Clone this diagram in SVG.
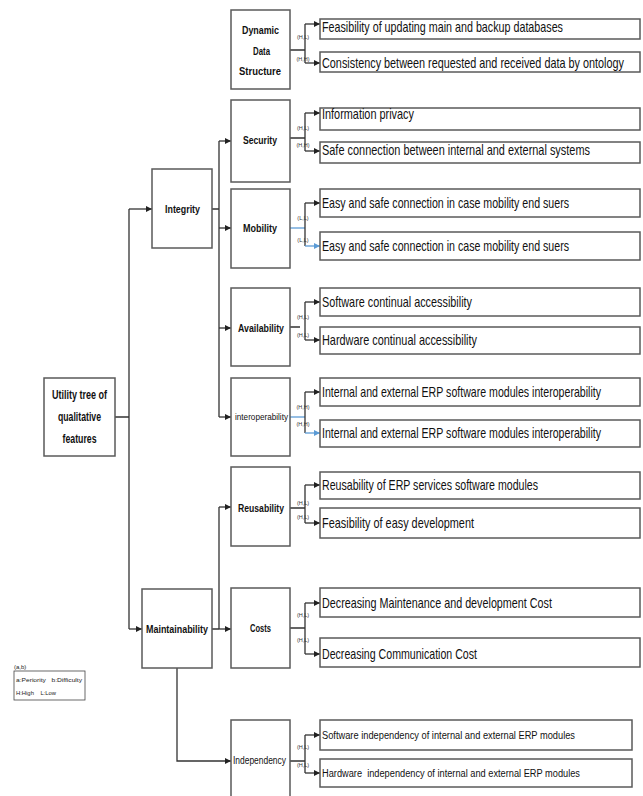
<svg xmlns="http://www.w3.org/2000/svg" width="643" height="796" viewBox="0 0 643 796">
<style>
.box{fill:#fff;stroke:#5a5a5a;stroke-width:1.5}
.t{font-family:"Liberation Sans",Arial,sans-serif;fill:#111}
.leaf{font-size:14px}
.leafs{font-size:11px}
.ttl{font-size:10px;font-weight:bold;text-anchor:middle}
.root{font-size:12px;font-weight:bold;text-anchor:middle}
.lbl{font-family:"Liberation Sans",Arial,sans-serif;font-size:5.5px;fill:#333;text-anchor:middle}
.c{fill:none;stroke:#333;stroke-width:1.3}
.cb{fill:none;stroke:#5b9bd5;stroke-width:1.3}
.a{marker-end:url(#ah)}
.ab{marker-end:url(#ahb)}
.lg{font-family:"Liberation Sans",Arial,sans-serif;font-size:6px;fill:#222}
</style>
<defs>
<marker id="ah" markerUnits="userSpaceOnUse" markerWidth="7" markerHeight="7" refX="6" refY="3" orient="auto"><path d="M0,0 L6,3 L0,6 z" fill="#222"/></marker>
<marker id="ahb" markerUnits="userSpaceOnUse" markerWidth="7" markerHeight="7" refX="6" refY="3" orient="auto"><path d="M0,0 L6,3 L0,6 z" fill="#5b9bd5"/></marker>
</defs>
<rect width="643" height="796" fill="#fff"/>

<g id="connectors">
<path class="c" d="M115,417 H129 M129,209 V629"/>
<path class="c a" d="M129,209 H152"/>
<path class="c a" d="M129,629 H142"/>
<path class="c" d="M212,209 H219 M219,141 V417"/>
<path class="c a" d="M219,141 H231"/>
<path class="c a" d="M219,228 H231"/>
<path class="c a" d="M219,328 H231"/>
<path class="c a" d="M219,417 H231"/>
<path class="c" d="M212,629 H219 M219,507 V629"/>
<path class="c a" d="M219,507 H231"/>
<path class="c a" d="M219,629 H231"/>
<path class="c a" d="M177,668 V761 H231"/>
<path class="c" d="M290,50 H305 M305,24 V63"/>
<path class="c a" d="M305,24 H320"/>
<path class="c a" d="M305,63 H320"/>
<path class="c" d="M290,138 H305 M305,113 V151"/>
<path class="c a" d="M305,113 H320"/>
<path class="c a" d="M305,151 H320"/>
<path class="cb" d="M290,228 H305"/>
<path class="c" d="M305,203 V246"/>
<path class="c a" d="M305,203 H320"/>
<path class="cb ab" d="M305,246 H320"/>
<path class="c" d="M290,327 H300 M305,302 V340"/>
<path class="c a" d="M305,302 H320"/>
<path class="c a" d="M305,340 H320"/>
<path class="cb" d="M290,417 H305"/>
<path class="c" d="M305,392 V433"/>
<path class="c a" d="M305,392 H320"/>
<path class="cb ab" d="M305,433 H320"/>
<path class="c" d="M290,508 H305 M305,485 V523"/>
<path class="c a" d="M305,485 H320"/>
<path class="c a" d="M305,523 H320"/>
<path class="c" d="M290,628 H305 M305,603 V654"/>
<path class="c a" d="M305,603 H320"/>
<path class="c a" d="M305,654 H320"/>
<path class="c" d="M290,761 H305 M305,735 V773"/>
<path class="c a" d="M305,735 H320"/>
<path class="c a" d="M305,773 H320"/>
</g>

<g id="labels">
<text class="lbl" x="303" y="39">(H,L)</text><text class="lbl" x="303" y="61">(H,H)</text>
<text class="lbl" x="303" y="130">(H,L)</text><text class="lbl" x="303" y="147">(H,H)</text>
<text class="lbl" x="303" y="220">(L,L)</text><text class="lbl" x="303" y="242">(L,L)</text>
<text class="lbl" x="303" y="319">(H,L)</text><text class="lbl" x="303" y="337">(H,L)</text>
<text class="lbl" x="303" y="409">(H,H)</text><text class="lbl" x="303" y="426">(H,H)</text>
<text class="lbl" x="303" y="505">(H,L)</text><text class="lbl" x="303" y="519">(H,L)</text>
<text class="lbl" x="303" y="617">(H,L)</text><text class="lbl" x="303" y="642">(H,L)</text>
<text class="lbl" x="303" y="749">(H,L)</text><text class="lbl" x="303" y="767">(H,L)</text>
</g>

<g id="root"><rect class="box" x="44" y="378" width="71" height="78"/>
<text class="t root" x="79.5" y="399" textLength="55" lengthAdjust="spacingAndGlyphs">Utility tree of</text>
<text class="t root" x="79.5" y="421" textLength="43" lengthAdjust="spacingAndGlyphs">qualitative</text>
<text class="t root" x="79.5" y="443" textLength="34" lengthAdjust="spacingAndGlyphs">features</text></g>

<g id="integrity"><rect class="box" x="152" y="169" width="60" height="79"/>
<text class="t ttl" x="182.5" y="213" textLength="35" lengthAdjust="spacingAndGlyphs">Integrity</text></g>
<g id="maintainability"><rect class="box" x="142" y="589" width="70" height="79"/>
<text class="t ttl" x="177" y="633" textLength="62" lengthAdjust="spacingAndGlyphs">Maintainability</text></g>

<g id="dds"><rect class="box" x="231" y="10" width="59" height="79"/>
<text class="t ttl" x="260.5" y="34" textLength="37" lengthAdjust="spacingAndGlyphs">Dynamic</text>
<text class="t ttl" x="261.5" y="55" textLength="17" lengthAdjust="spacingAndGlyphs">Data</text>
<text class="t ttl" x="260" y="75" textLength="42" lengthAdjust="spacingAndGlyphs">Structure</text></g>
<g id="security"><rect class="box" x="231" y="100" width="59" height="82"/>
<text class="t ttl" x="260" y="144" textLength="34" lengthAdjust="spacingAndGlyphs">Security</text></g>
<g id="mobility"><rect class="box" x="231" y="189" width="59" height="79"/>
<text class="t ttl" x="260" y="232" textLength="34" lengthAdjust="spacingAndGlyphs">Mobility</text></g>
<g id="availability"><rect class="box" x="231" y="288" width="59" height="78"/>
<text class="t ttl" x="261" y="332" textLength="46" lengthAdjust="spacingAndGlyphs">Availability</text></g>
<g id="interoperability"><rect class="box" x="231" y="378" width="59" height="78"/>
<text class="t ttl" x="261.5" y="420" style="font-size:8.5px;font-weight:normal" textLength="53" lengthAdjust="spacingAndGlyphs">interoperability</text></g>
<g id="reusability"><rect class="box" x="231" y="467" width="59" height="79"/>
<text class="t ttl" x="261" y="512" textLength="46" lengthAdjust="spacingAndGlyphs">Reusability</text></g>
<g id="costs"><rect class="box" x="231" y="588" width="59" height="80"/>
<text class="t ttl" x="260.5" y="632" textLength="21" lengthAdjust="spacingAndGlyphs">Costs</text></g>
<g id="independency"><rect class="box" x="231" y="720" width="59" height="90"/>
<text class="t ttl" x="259.5" y="764" style="font-weight:normal" textLength="53" lengthAdjust="spacingAndGlyphs">Independency</text></g>

<g id="leaf-dds-1"><rect class="box" x="320" y="19" width="320" height="20"/><text class="t leaf" transform="translate(322,32) scale(0.72,1)" textLength="334.7" lengthAdjust="spacingAndGlyphs">Feasibility of updating main and backup databases</text></g>
<g id="leaf-dds-2"><rect class="box" x="320" y="52" width="320" height="20"/><text class="t leaf" transform="translate(322,68) scale(0.72,1)" textLength="419.4" lengthAdjust="spacingAndGlyphs">Consistency between requested and received data by ontology</text></g>
<g id="leaf-sec-1"><rect class="box" x="320" y="108" width="320" height="22"/><text class="t leaf" transform="translate(322,119) scale(0.72,1)" textLength="127.8" lengthAdjust="spacingAndGlyphs">Information privacy</text></g>
<g id="leaf-sec-2"><rect class="box" x="320" y="142" width="320" height="21"/><text class="t leaf" transform="translate(322,155) scale(0.72,1)" textLength="372.2" lengthAdjust="spacingAndGlyphs">Safe connection between internal and external systems</text></g>
<g id="leaf-mob-1"><rect class="box" x="320" y="189" width="320" height="28"/><text class="t leaf" transform="translate(322,208) scale(0.72,1)" textLength="343.1" lengthAdjust="spacingAndGlyphs">Easy and safe connection in case mobility end suers</text></g>
<g id="leaf-mob-2"><rect class="box" x="320" y="232" width="320" height="28"/><text class="t leaf" transform="translate(322,251) scale(0.72,1)" textLength="343.1" lengthAdjust="spacingAndGlyphs">Easy and safe connection in case mobility end suers</text></g>
<g id="leaf-av-1"><rect class="box" x="320" y="288" width="320" height="28"/><text class="t leaf" transform="translate(322,307) scale(0.72,1)" textLength="208.3" lengthAdjust="spacingAndGlyphs">Software continual accessibility</text></g>
<g id="leaf-av-2"><rect class="box" x="320" y="327" width="320" height="27"/><text class="t leaf" transform="translate(322,345) scale(0.72,1)" textLength="215.3" lengthAdjust="spacingAndGlyphs">Hardware continual accessibility</text></g>
<g id="leaf-int-1"><rect class="box" x="320" y="378" width="320" height="28"/><text class="t leaf" transform="translate(322,397) scale(0.72,1)" textLength="387.5" lengthAdjust="spacingAndGlyphs">Internal and external ERP software modules interoperability</text></g>
<g id="leaf-int-2"><rect class="box" x="320" y="420" width="320" height="27"/><text class="t leaf" transform="translate(322,438) scale(0.72,1)" textLength="387.5" lengthAdjust="spacingAndGlyphs">Internal and external ERP software modules interoperability</text></g>
<g id="leaf-reu-1"><rect class="box" x="320" y="472" width="320" height="27"/><text class="t leaf" transform="translate(322,490) scale(0.72,1)" textLength="300" lengthAdjust="spacingAndGlyphs">Reusability of ERP services software modules</text></g>
<g id="leaf-reu-2"><rect class="box" x="320" y="508" width="320" height="30"/><text class="t leaf" transform="translate(322,528) scale(0.72,1)" textLength="211.1" lengthAdjust="spacingAndGlyphs">Feasibility of easy development</text></g>
<g id="leaf-cost-1"><rect class="box" x="320" y="588" width="320" height="29"/><text class="t leaf" transform="translate(322,608) scale(0.72,1)" textLength="319.4" lengthAdjust="spacingAndGlyphs">Decreasing Maintenance and development Cost</text></g>
<g id="leaf-cost-2"><rect class="box" x="320" y="638" width="320" height="29"/><text class="t leaf" transform="translate(322,659) scale(0.72,1)" textLength="215.3" lengthAdjust="spacingAndGlyphs">Decreasing Communication Cost</text></g>
<g id="leaf-ind-1"><rect class="box" x="320" y="720" width="312" height="30"/><text class="t leafs" transform="translate(322,739) scale(0.72,1)" textLength="351.4" lengthAdjust="spacingAndGlyphs">Software independency of internal and external ERP modules</text></g>
<g id="leaf-ind-2"><rect class="box" x="320" y="759" width="312" height="28"/><text class="t leafs" transform="translate(322,777) scale(0.72,1)" xml:space="preserve" textLength="358.3" lengthAdjust="spacingAndGlyphs">Hardware  independency of internal and external ERP modules</text></g>

<g id="legend">
<text class="lg" x="14" y="669">(a,b)</text>
<rect x="14" y="671" width="71" height="29" fill="#fff" stroke="#444" stroke-width="0.8"/>
<text class="lg" x="16" y="682" xml:space="preserve" textLength="66" lengthAdjust="spacingAndGlyphs">a:Periority   b:Difficulty</text>
<text class="lg" x="16" y="695" xml:space="preserve" textLength="40" lengthAdjust="spacingAndGlyphs">H:High    L:Low</text>
</g>
</svg>
